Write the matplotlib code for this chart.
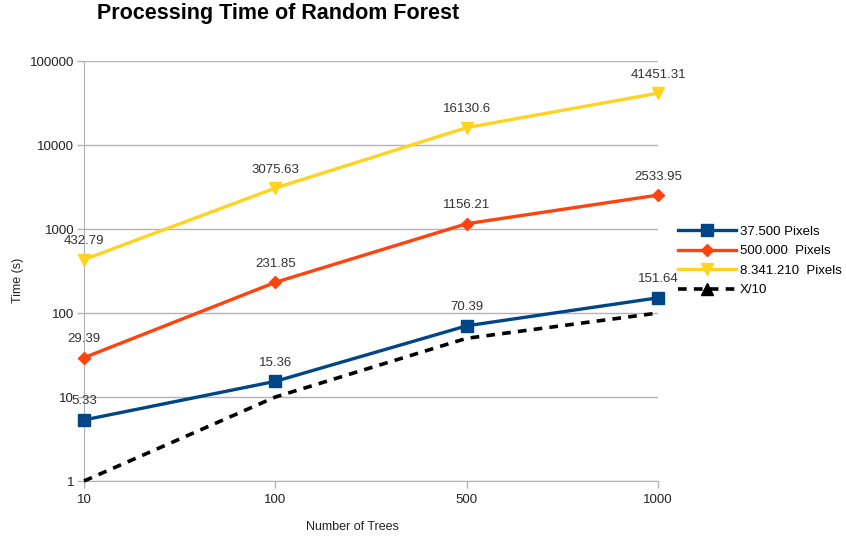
import matplotlib
matplotlib.use("Agg")
import matplotlib.pyplot as plt
from matplotlib.lines import Line2D

plt.rcParams['font.family'] = ['Liberation Sans', 'DejaVu Sans']

# Data
trees = ["10", "100", "500", "1000"]
px_37500 = [5.33, 15.36, 70.39, 151.64]
px_500000 = [29.39, 231.85, 1156.21, 2533.95]
px_8341210 = [432.79, 3075.63, 16130.6, 41451.31]
x_over_10 = [1, 10, 50, 100]
labels_37500 = ["5.33", "15.36", "70.39", "151.64"]
labels_500000 = ["29.39", "231.85", "1156.21", "2533.95"]
labels_8341210 = ["432.79", "3075.63", "16130.6", "41451.31"]

blue = "#004586"
orange = "#ff420e"
yellow = "#ffd320"

fig = plt.figure(figsize=(8.46, 5.39), dpi=100)
ax = fig.add_axes([0.0993, 0.1076, 0.6785, 0.7792])
x = list(range(len(trees)))

ax.plot(x, px_37500, color=blue, lw=2.4, marker='s', ms=8, label="37.500 Pixels", zorder=4, clip_on=False)
ax.plot(x, px_500000, color=orange, lw=2.4, marker='D', ms=6, label="500.000  Pixels", zorder=4, clip_on=False)
ax.plot(x, px_8341210, color=yellow, lw=2.4, marker='v', ms=8, label="8.341.210  Pixels", zorder=4, clip_on=False)
ax.plot(x, x_over_10, color="black", lw=2.6, ls=(0, (2.4, 2.0)), zorder=3, clip_on=False)

# data labels
for vals, labs in [(px_37500, labels_37500), (px_500000, labels_500000), (px_8341210, labels_8341210)]:
    for xi, v, lab in zip(x, vals, labs):
        ax.annotate(lab, (xi, v), xytext=(0, 9), textcoords="offset points",
                    ha="center", va="bottom", fontsize=9.5, color="#333333", zorder=6)

ax.set_yscale("log")
ax.set_ylim(1, 100000)
ax.set_xlim(0, 3)
ax.set_yticks([1, 10, 100, 1000, 10000, 100000])
ax.set_yticklabels(["1", "10", "100", "1000", "10000", "100000"])
ax.minorticks_off()
ax.set_xticks(x)
ax.set_xticklabels(trees)
ax.tick_params(axis='both', labelsize=9.5, colors="#b3b3b3", labelcolor="#222222", length=5, width=1)
ax.tick_params(axis='x', pad=4)
ax.tick_params(axis='y', pad=2)
ax.grid(axis='y', color="#b3b3b3", lw=1)
ax.set_axisbelow(True)
for s in ["top", "right"]:
    ax.spines[s].set_visible(False)
for s in ["left", "bottom"]:
    ax.spines[s].set_color("#b3b3b3")

fig.text(352 / 846, 1 - 527 / 539, "Number of Trees", fontsize=9, ha="center", va="center", color="#222222")
fig.text(18 / 846, 1 - 280 / 539, "Time (s)", fontsize=9, ha="center", va="center",
         rotation=90, color="#222222")

fig.text(0.115, 0.994, "Processing Time of Random Forest", fontsize=15.5,
         fontweight="bold", ha="left", va="top")

handles = ax.get_legend_handles_labels()[0]
handles.append(Line2D([], [], color="black", lw=2.6, ls=(0, (2.4, 2.0)), marker='^', ms=8))
labels = ["37.500 Pixels", "500.000  Pixels", "8.341.210  Pixels", "X/10"]
ax.legend(handles, labels, loc="center left", bbox_to_anchor=(0.801, 1 - 261 / 539),
          bbox_transform=fig.transFigure, frameon=False, fontsize=9.5,
          handlelength=4.4, handletextpad=0.3, labelspacing=0.55, borderaxespad=0, borderpad=0)

fig.savefig("out.png", dpi=100)
